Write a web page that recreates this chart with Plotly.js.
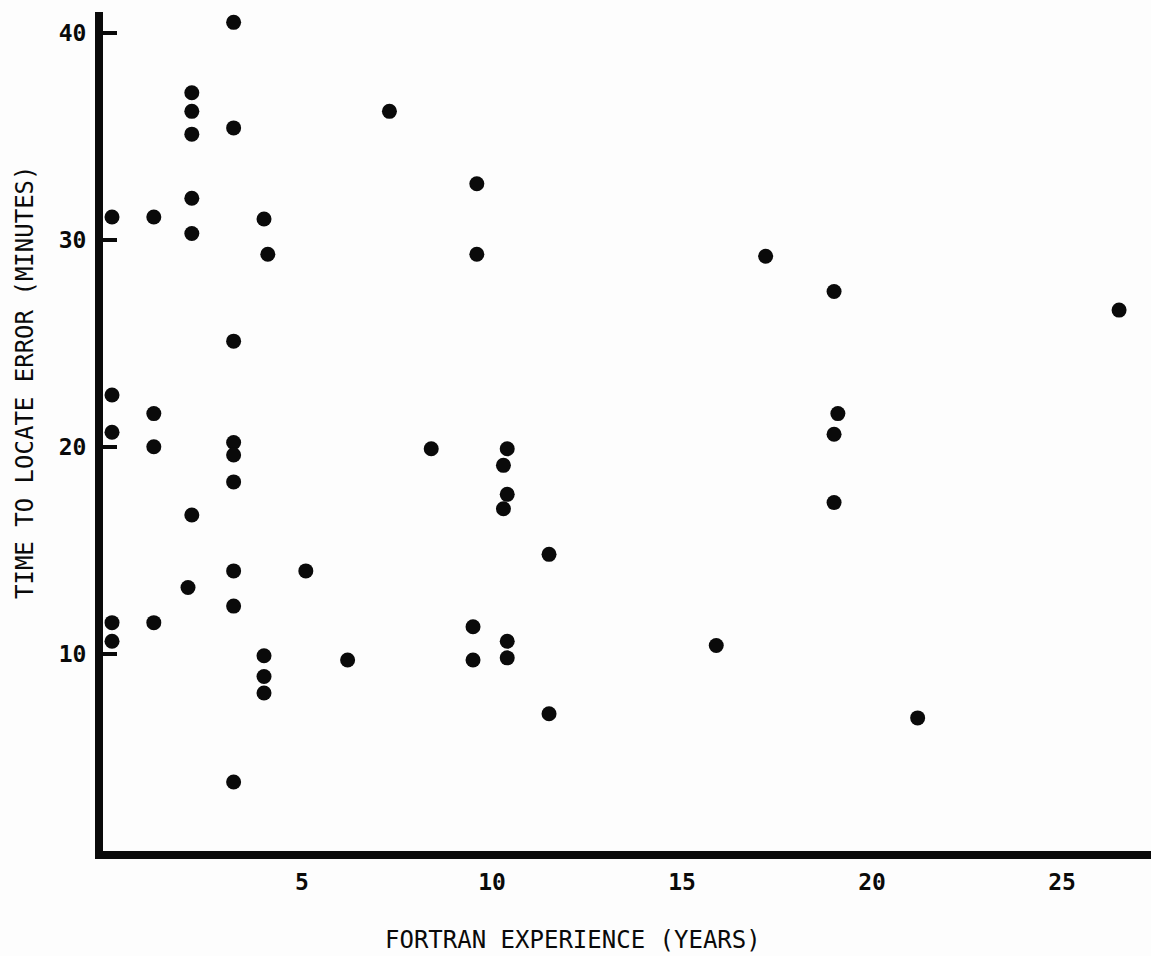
<!DOCTYPE html>
<html><head><meta charset="utf-8">
<script src="https://cdn.plot.ly/plotly-3.0.1.min.js"></script>
<style>html,body{margin:0;padding:0;background:#fdfdfd}</style>
</head><body>
<div id="chart" style="width:1151px;height:956px"></div>
<script>
// FORTRAN experience (years) of each programmer
const experienceYears = [3.2,2.1,2.1,2.1,3.2,7.3,2.1,0,1.1,2.1,4.0,4.1,9.6,9.6,17.2,19.0,26.5,
  3.2,0,1.1,0,1.1,3.2,3.2,3.2,8.4,10.4,10.3,10.4,10.3,19.1,19.0,19.0,2.1,11.5,3.2,5.1,2.0,3.2,
  0,1.1,0,9.5,10.4,4.0,4.0,4.0,6.2,9.5,10.4,15.9,3.2,11.5,21.2];
// Time to locate error (minutes)
const minutesToLocate = [40.5,37.1,36.2,35.1,35.4,36.2,32.0,31.1,31.1,30.3,31.0,29.3,32.7,29.3,29.2,27.5,26.6,
  25.1,22.5,21.6,20.7,20.0,20.2,19.6,18.3,19.9,19.9,19.1,17.7,17.0,21.6,20.6,17.3,16.7,14.8,14.0,14.0,13.2,12.3,
  11.5,11.5,10.6,11.3,10.6,9.9,8.9,8.1,9.7,9.7,9.8,10.4,3.8,7.1,6.9];
const xTickValues = [5, 10, 15, 20, 25];
const xTickLabels = ['5', '10', '15', '20', '25'];
const yTickValues = [10, 20, 30, 40];
const yTickLabels = ['10', '20', '30', '40'];
const xTitle = 'FORTRAN EXPERIENCE (YEARS)';
const yTitle = 'TIME TO LOCATE ERROR (MINUTES)';

const ink = '#0a0a0a';
const mono = '"DejaVu Sans Mono", "Liberation Mono", monospace';

const trace = {
  type: 'scatter', mode: 'markers',
  x: experienceYears, y: minutesToLocate,
  marker: {color: ink, size: 15, line: {width: 0}},
  hoverinfo: 'x+y', showlegend: false
};

const layout = {
  width: 1151, height: 956,
  margin: {l: 103, r: 0, t: 12, b: 105, pad: 0},
  paper_bgcolor: '#fdfdfd', plot_bgcolor: '#fdfdfd',
  showlegend: false,
  xaxis: {
    range: [-0.237, 27.34], showgrid: false, zeroline: false,
    showline: true, linewidth: 8, linecolor: ink,
    ticks: '', tickmode: 'array', tickvals: xTickValues, ticktext: xTickLabels,
    tickfont: {family: mono, size: 23, color: ink, weight: 'bold'},
    ticklabelstandoff: 3
  },
  yaxis: {
    range: [0.47, 41.0], showgrid: false, zeroline: false,
    showline: true, linewidth: 8, linecolor: ink,
    ticks: 'inside', ticklen: 14, tickwidth: 4, tickcolor: ink,
    tickmode: 'array', tickvals: yTickValues, ticktext: yTickLabels,
    tickfont: {family: mono, size: 23, color: ink, weight: 'bold'},
    ticklabelstandoff: 4
  },
  annotations: [
    {text: xTitle, xref: 'paper', yref: 'paper', x: (573 - 103) / 1048, y: -(940 - 851) / 839,
     xanchor: 'center', yanchor: 'middle', showarrow: false,
     font: {family: mono, size: 24, color: ink}},
    {text: yTitle, xref: 'paper', yref: 'paper', x: -(103 - 25) / 1048, y: (851 - 383) / 839,
     xanchor: 'center', yanchor: 'middle', showarrow: false, textangle: -90,
     font: {family: mono, size: 24, color: ink}}
  ]
};

Plotly.newPlot('chart', [trace], layout, {displayModeBar: false, staticPlot: true});
</script>
</body></html>
